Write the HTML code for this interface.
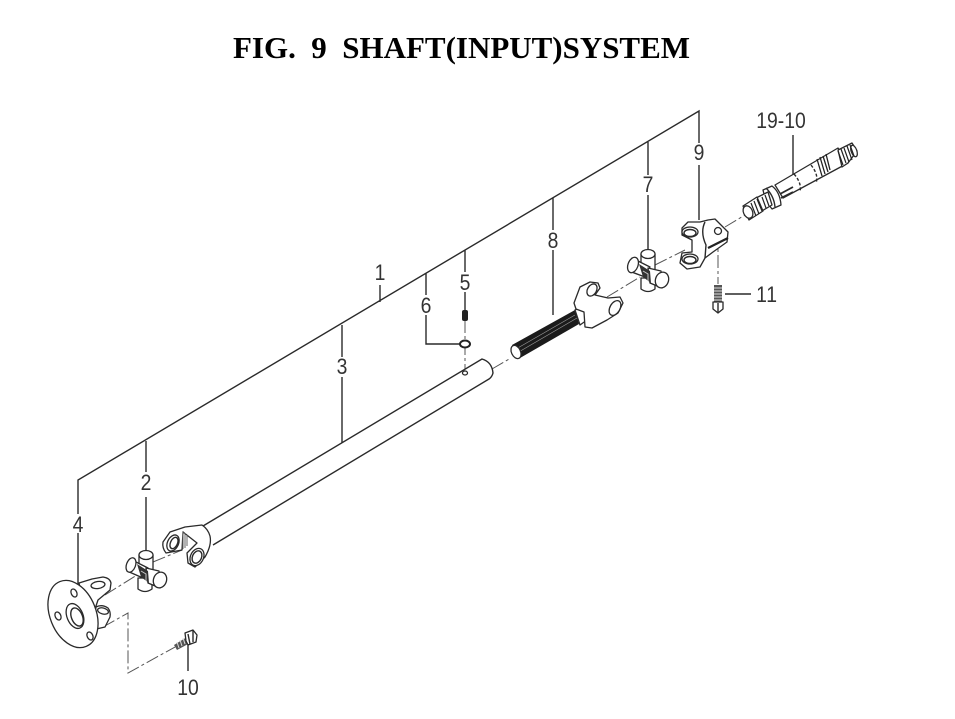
<!DOCTYPE html>
<html><head><meta charset="utf-8"><style>
html,body{margin:0;padding:0;background:#fff}
svg{display:block}
.t{font-family:"Liberation Serif",serif;font-weight:bold;font-size:31px;fill:#000}
.n{font-family:"Liberation Sans",sans-serif;font-size:22px;fill:#333;text-anchor:middle}
.l{stroke:#2a2a2a;stroke-width:1.4;fill:none}
.p{stroke:#2a2a2a;stroke-width:1.3;fill:#fff;stroke-linejoin:round}
.c{stroke:#555;stroke-width:1;fill:none;stroke-dasharray:13 3 3 3}
.d{stroke:#222;stroke-width:1.2;fill:none}
</style></head><body>
<svg width="955" height="719" viewBox="0 0 955 719" xmlns="http://www.w3.org/2000/svg">
<text class="t" x="233" y="58" textLength="457" lengthAdjust="spacingAndGlyphs" xml:space="preserve">FIG.  9  SHAFT(INPUT)SYSTEM</text>

<!-- leader lines -->
<path class="l" d="M78 514V480L699 111V143M699 165V220M648 142V175M648 195V250M553 198V230M553 250V315M465 250V272M465 292V310M426 273V295M426 315V344H460M380 285V302M342 325V357M342 377V443M146 441V472M146 497V553M78 533V584"/>
<path class="l" d="M188 642V671M725 294H751M793 135V176"/>

<!-- centre lines -->
<path class="c" d="M105 595L137 575M153 562L182 550M492 369L511 358M465 320V370M607 297L640 277M655 265L685 250M725 227L745 215M718 233V284"/>
<path class="c" d="M103 627L128 613V673L175 647"/>

<!-- flange -->
<path class="p" d="M79 583L92 579L103 577Q110 578 111 583L110 590L98 600L94 612L86 615Z"/>
<ellipse class="p" cx="98" cy="585" rx="7" ry="3.500" transform="rotate(-8 98 585)"/>
<path class="p" d="M96 607Q102 604 108 608Q111 612 110 617L105 627L92 630Z"/>
<ellipse class="p" cx="103" cy="611" rx="5.500" ry="3" transform="rotate(15 103 611)"/>
<ellipse class="p" cx="73" cy="614" rx="23" ry="35" transform="rotate(-22 73 614)"/>
<ellipse class="p" cx="75" cy="616" rx="8" ry="13" transform="rotate(-22 75 616)"/>
<ellipse class="l" cx="77" cy="617" rx="5.500" ry="9.500" transform="rotate(-22 77 617)"/>
<ellipse class="p" cx="74" cy="593" rx="2.800" ry="4.200" transform="rotate(-25 74 593)"/>
<ellipse class="p" cx="58" cy="616" rx="2.800" ry="4.200" transform="rotate(-25 58 616)"/>
<ellipse class="p" cx="90" cy="636" rx="2.800" ry="4.200" transform="rotate(-25 90 636)"/>

<!-- cross 2 -->
<path class="p" d="M139 555H153V572L139 572Z"/>
<ellipse class="p" cx="146" cy="555" rx="7" ry="4.500"/>
<path class="p" d="M138 578H152V589Q145 594 138 589Z"/>
<path class="p" d="M130 559L148 568L143 578L127 571Z"/>
<ellipse class="p" cx="131" cy="565" rx="4.500" ry="7.500" transform="rotate(20 131 565)"/>
<path class="p" d="M146 568L159 571L160 588L148 583Z"/>
<ellipse class="p" cx="160" cy="580" rx="6.500" ry="8" transform="rotate(20 160 580)"/>
<path d="M137 564L148 571L149 583L141 577Z" fill="#333"/>
<path d="M141 571L146 574L146 581" stroke="#ccc" fill="none"/>

<!-- long tube + yoke -->
<path fill="#fff" d="M203 526L482 359Q492 362 493 373Q492 377 489 379L213 545Z"/>
<path class="l" d="M203 526L482 359Q492 362 493 373Q492 377 489 379L213 545"/>
<path class="p" d="M163 542L170 532L185 527L202 525Q208 529 210 536Q212 545 205 557L195 567L188 563L187 553L197 543L183 532L182 550L166 553Q162 548 163 542Z"/>
<ellipse class="p" cx="173" cy="543" rx="5.500" ry="8.500" transform="rotate(25 173 543)"/>
<ellipse class="l" cx="174" cy="543" rx="3.500" ry="6" transform="rotate(25 174 543)"/>
<ellipse class="p" cx="197" cy="557" rx="6.500" ry="9" transform="rotate(25 197 557)"/>
<ellipse class="l" cx="197" cy="557" rx="4.500" ry="6.500" transform="rotate(25 197 557)"/>
<path d="M183 531V549M185 533V548M187 535V546" stroke="#666" stroke-width="1" fill="none"/>
<ellipse class="p" cx="465" cy="373" rx="2.500" ry="2"/>

<!-- 5, 6 -->
<rect x="462" y="310" width="6" height="11" rx="2" fill="#222"/>
<ellipse cx="465" cy="344" rx="5" ry="3.500" fill="#fff" stroke="#222" stroke-width="2"/>

<!-- spline shaft -->
<path d="M512 345L575 310L579 324L520 358Z" fill="#1b1b1b"/>
<path d="M516 349L575 315M517 353L577 318" stroke="#999" stroke-width=".7" fill="none"/>
<ellipse class="p" cx="516" cy="352" rx="4.500" ry="7" transform="rotate(-25 516 352)"/>
<path class="p" d="M575 310L587 305V320L580 325Z"/>
<path class="p" d="M574 303L580 287L590 282L598 283L600 288L595 295L608 298L620 297L623 303L618 313L607 320L592 328L585 327L584 312L576 309Z"/>
<ellipse class="p" cx="592" cy="290" rx="4.500" ry="6.500" transform="rotate(30 592 290)"/>
<ellipse class="p" cx="615" cy="308" rx="5" ry="8" transform="rotate(30 615 308)"/>

<!-- cross 7 -->
<path class="p" d="M641 254H655V272H641Z"/>
<ellipse class="p" cx="648" cy="254" rx="7" ry="4.500"/>
<path class="p" d="M641 278H655V289Q648 294 641 289Z"/>
<path class="p" d="M632 258L650 267L645 277L629 271Z"/>
<ellipse class="p" cx="633" cy="265" rx="5" ry="8" transform="rotate(20 633 265)"/>
<path class="p" d="M648 268L661 271L662 288L650 283Z"/>
<ellipse class="p" cx="662" cy="280" rx="6.500" ry="8" transform="rotate(20 662 280)"/>
<path d="M639 264L650 271L651 283L643 277Z" fill="#333"/>
<path d="M643 271L648 274L648 281" stroke="#ccc" fill="none"/>

<!-- yoke 9 -->
<path class="p" d="M682 228L688 222H700L708 220L715 219L728 232L727 242L713 252L705 258L700 267L687 269L680 263L682 253L692 252L692 240L682 235Z"/>
<ellipse class="p" cx="690" cy="232" rx="8" ry="5"/>
<ellipse class="l" cx="690" cy="233" rx="6" ry="3.500"/>
<ellipse class="p" cx="690" cy="259" rx="8" ry="5"/>
<ellipse class="l" cx="690" cy="260" rx="6" ry="3.500"/>
<path class="l" d="M705 222Q700 232 706 245L705 258"/>
<path d="M708 248L728 238" stroke="#222" stroke-width="2.200" fill="none"/>
<circle class="p" cx="718" cy="231" r="3.500"/>

<!-- bolt 11 -->
<path d="M714 285H722V302H714Z" fill="#555"/>
<path d="M714 288H722M714 291H722M714 294H722M714 297H722M714 300H722" stroke="#ddd" stroke-width="1"/>
<path class="p" d="M713 302H723V309L718 313L713 309Z"/>
<path class="l" d="M718 303V312"/>

<!-- bolt 10 -->
<path d="M174 645L187 637L190 643L177 650Z" fill="#555"/>
<path d="M177 642L179 648M180 640L182 646M183 638L185 644M186 637L188 642" stroke="#ddd" stroke-width="1"/>
<path class="p" d="M185 633L193 630L197 635L196 642L188 645L186 641Z"/>
<path class="l" d="M188 634L190 644M193 631L193 642"/>

<!-- input shaft 19-10 -->
<path class="p" d="M775 185L838 148L848 163L783 198Z"/>
<path class="p" d="M838 150L852 143L857 151L848 163L842 167Z"/>
<ellipse class="p" cx="854" cy="151" rx="2.800" ry="6" transform="rotate(-20 854 151)"/>
<path d="M838 151L843 165M841 149L846 163M844 148L849 162M847 146L852 160M850 145L854 156" stroke="#222" stroke-width="1.200"/>
<path d="M817 159L822 176M820 157L825 174M823 156L828 172M826 154L830 170" stroke="#222" stroke-width="1.300"/>
<path class="l" d="M794 174Q802 183 800 192M811 165Q819 175 816 183" stroke-dasharray="3 2"/>
<path class="p" d="M763 190L772 186Q780 192 781 205L772 209Q765 201 763 190Z"/>
<path class="l" d="M766 188Q774 196 775 207"/>
<path class="p" d="M756 198L768 192L772 205L760 212Z"/>
<path class="p" d="M743 206L757 197L763 211L749 220Z"/>
<ellipse class="p" cx="748" cy="212" rx="4.500" ry="6.500" transform="rotate(-25 748 212)"/>
<path d="M751 203L756 216M754 201L759 214M757 199L762 211M762 197L766 208M765 195L769 206" stroke="#222" stroke-width="1.200"/>
<path d="M780 194L793 187M781 198L793 192" class="l" style="stroke-width:1.800"/>

<!-- labels -->
<text class="n" transform="translate(78 532) scale(.88 1)">4</text>
<text class="n" transform="translate(146 490) scale(.88 1)">2</text>
<text class="n" transform="translate(342 374) scale(.88 1)">3</text>
<text class="n" transform="translate(380 280) scale(.88 1)">1</text>
<text class="n" transform="translate(426 313) scale(.88 1)">6</text>
<text class="n" transform="translate(465 290) scale(.88 1)">5</text>
<text class="n" transform="translate(553 248) scale(.88 1)">8</text>
<text class="n" transform="translate(648 192) scale(.88 1)">7</text>
<text class="n" transform="translate(699 160) scale(.88 1)">9</text>
<text class="n" transform="translate(767 302) scale(.88 1)" letter-spacing="1">11</text>
<text class="n" transform="translate(188 695) scale(.88 1)">10</text>
<text class="n" transform="translate(781 128) scale(.88 1)">19-10</text>
</svg>
</body></html>
